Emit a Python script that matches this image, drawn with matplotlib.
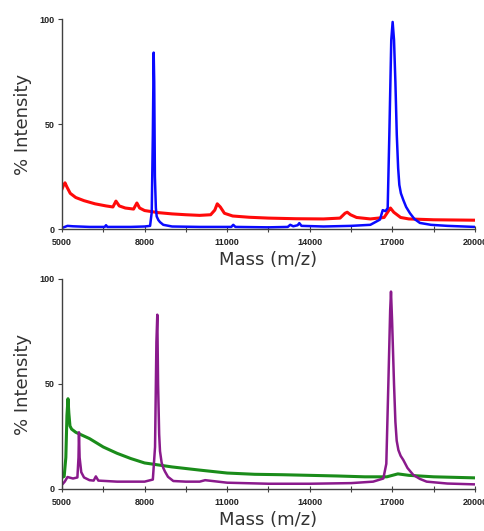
import matplotlib
matplotlib.use("Agg")
import matplotlib.pyplot as plt

# top panel spectra
red_mass = [5000, 5060, 5110, 5180, 5300, 5500, 5800, 6200, 6600, 6850, 6960, 7080, 7300, 7600,
            7720, 7820, 8000, 8500, 9000, 9500, 10000, 10400, 10550, 10640, 10750, 10900, 11200,
            11800, 12500, 13500, 14500, 15100, 15280, 15360, 15480, 15700, 16200, 16700, 16880,
            16930, 17050, 17300, 17600, 18500, 20000]
red_int = [19, 21, 22, 20, 17, 15, 13.5, 12, 11, 10.5, 13.3, 11, 10, 9.5,
           12.4, 10, 8.8, 7.8, 7.2, 6.8, 6.5, 6.8, 9, 12, 10.5, 7.5, 6.2,
           5.6, 5.2, 4.9, 4.8, 5.2, 7.5, 8, 6.8, 5.5, 4.8, 5.5, 9,
           10, 8, 5.5, 4.8, 4.4, 4.2]

blue_mass = [5000, 5100, 5200, 5400, 6000, 6550, 6600, 6650, 7500, 8000, 8200, 8260, 8300, 8330,
             8350, 8375, 8410, 8440, 8500, 8560, 8680, 9000, 10000, 11150, 11220, 11300, 12500,
             13200, 13290, 13400, 13560, 13620, 13700, 14500, 15500, 16200, 16550, 16650, 16750,
             16830, 16890, 16960, 17010, 17060, 17110, 17160, 17210, 17253, 17310, 17398, 17500,
             17640, 17800, 18000, 18400, 19000, 20000]
blue_int = [0.5, 1, 1.5, 1.3, 1, 1, 1.8, 1, 1, 1.2, 1.5, 8, 45, 84,
            70, 25, 10, 6, 4.3, 3.3, 2, 1.2, 1, 1, 2, 1, 0.8,
            1, 2, 1.3, 1.8, 2.8, 1.5, 1.2, 1.5, 2, 4.5, 9, 8.5,
            10, 45, 90, 98.6, 90, 70, 45, 29, 21, 17, 13.8, 10.5,
            7.5, 4.8, 2.9, 2, 1.5, 1]

# bottom panel spectra
green_mass = [5000, 5080, 5140, 5180, 5218, 5250, 5290, 5350, 5500, 6000, 6500, 7000, 7500, 8000,
              9000, 10000, 11000, 12000, 13000, 14000, 15000, 16000, 16800, 17200, 17600, 18500, 20000]
green_int = [5.5, 6, 15, 35, 43, 36, 30, 28.5, 27, 24, 20, 17, 14.5, 12.4,
             10.5, 9, 7.6, 7, 6.8, 6.5, 6.2, 5.8, 5.8, 7.2, 6.5, 5.8, 5.3]

purple_mass = [5000, 5100, 5200, 5400, 5560, 5600, 5617, 5640, 5700, 5800, 6000, 6150, 6230, 6320,
               7000, 8000, 8300, 8380, 8430, 8462, 8490, 8530, 8560, 8620, 8680, 8741, 8850, 9044,
               9500, 10000, 10200, 11000, 12500, 14000, 15500, 16300, 16672, 16780, 16854, 16920,
               16950, 16990, 17060, 17110, 17157, 17220, 17300, 17398, 17550, 17760, 18000, 18245,
               19000, 20000]
purple_int = [2, 3.5, 5.7, 5, 5.5, 15, 27, 15, 8, 5.5, 4.2, 4, 6, 4,
              3.5, 3.5, 4.5, 20, 70, 83, 50, 26, 18, 12.5, 10, 8.3, 5.8, 3.8,
              3.5, 3.5, 4.2, 3, 2.5, 2.5, 2.8, 3.5, 5, 12, 50, 85,
              94, 80, 50, 32, 23, 18.5, 15.8, 13.8, 10, 6.7, 4.8, 3.5,
              2.6, 2.2]

xticks = [5000, 6500, 8000, 9500, 11000, 12500, 14000, 15500, 17000, 18500, 20000]
xticklabels = ['5000', '', '8000', '', '11000', '', '14000', '', '17000', '', '20000']
yticks = [0, 50, 100]

fig = plt.figure(figsize=(4.85, 5.31), dpi=100)
ax1 = fig.add_axes([0.1278, 0.5687, 0.8515, 0.3955])
ax2 = fig.add_axes([0.1278, 0.0791, 0.8515, 0.3955])

ax1.plot(red_mass, red_int, color='#ff0a0a', lw=2.2, solid_joinstyle='round')
ax1.plot(blue_mass, blue_int, color='#0a0aff', lw=1.8, solid_joinstyle='round')
ax2.plot(green_mass, green_int, color='#1a8c1a', lw=2.2, solid_joinstyle='round')
ax2.plot(purple_mass, purple_int, color='#8a1a8c', lw=1.8, solid_joinstyle='round')

for ax in (ax1, ax2):
    ax.set_xlim(5000, 20000)
    ax.set_ylim(0, 100)
    ax.spines['top'].set_visible(False)
    ax.spines['right'].set_visible(False)
    for s in ('left', 'bottom'):
        ax.spines[s].set_color('#404040')
        ax.spines[s].set_linewidth(1.0)
    ax.set_xticks(xticks)
    ax.set_xticklabels(xticklabels)
    ax.set_yticks(yticks)
    ax.tick_params(axis='x', direction='inout', length=5, width=0.8, color='#404040', pad=4)
    ax.tick_params(axis='y', direction='out', length=3, width=0.8, color='#404040', pad=2)
    for lab in ax.get_xticklabels() + ax.get_yticklabels():
        lab.set_fontfamily('Liberation Sans')
        lab.set_fontweight('bold')
        lab.set_fontsize(6.5)
        lab.set_color('#222222')
    ax.set_xlabel('Mass (m/z)', fontsize=13, color='#333333', family='DejaVu Sans', labelpad=3)
    ax.set_ylabel('% Intensity', fontsize=13, color='#333333', family='DejaVu Sans', labelpad=6)
    ax.patch.set_alpha(0)

fig.savefig('out.png', dpi=100)
